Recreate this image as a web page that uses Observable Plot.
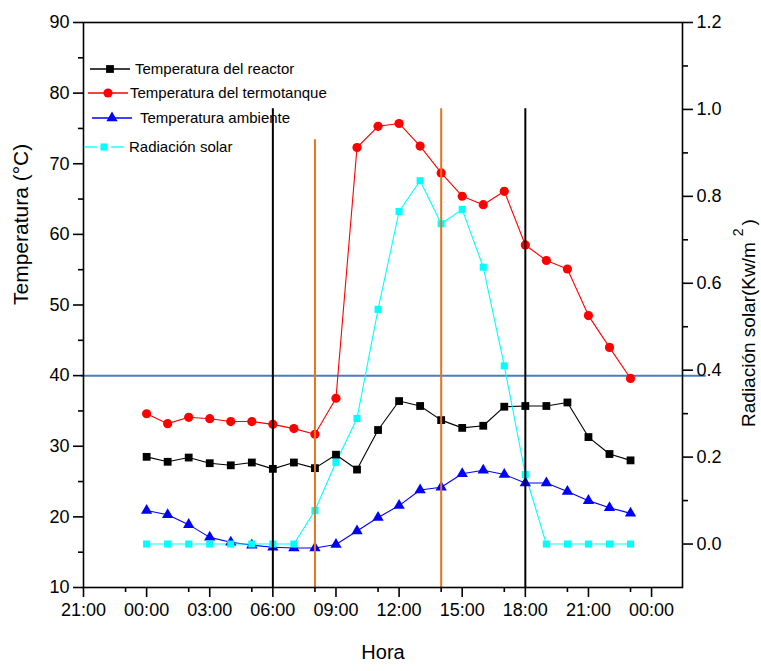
<!DOCTYPE html>
<html>
<head>
<meta charset="utf-8">
<script src="https://cdn.jsdelivr.net/npm/d3@7"></script>
<script src="https://cdn.jsdelivr.net/npm/@observablehq/plot@0.6"></script>
<style>
  html, body { margin: 0; padding: 0; background: #fff; }
  #chart svg { display: block; font-family: "Liberation Sans", Arial, sans-serif; }
</style>
</head>
<body>
<div id="chart"></div>
<script>
// Hourly readings over one day (hour of day)
const hours = [0, 1, 2, 3, 4, 5, 6, 7, 8, 9, 10, 11, 12, 13, 14, 15, 16, 17, 18, 19, 20, 21, 22, 23];

// Temperatures (°C)
const tempReactor = [28.5, 27.8, 28.4, 27.6, 27.3, 27.7, 26.8, 27.7, 26.9, 28.8, 26.7, 32.3,
                     36.4, 35.7, 33.7, 32.6, 32.9, 35.6, 35.7, 35.7, 36.2, 31.3, 28.9, 28.0];
const tempTermotanque = [34.6, 33.2, 34.1, 33.9, 33.5, 33.5, 33.1, 32.5, 31.7, 36.8, 72.3, 75.3,
                         75.7, 72.5, 68.7, 65.4, 64.2, 66.1, 58.5, 56.3, 55.1, 48.5, 44.0, 39.6];
const tempAmbiente = [20.9, 20.3, 18.9, 17.1, 16.4, 16.0, 15.7, 15.6, 15.6, 16.1, 18.0, 19.9,
                      21.6, 23.8, 24.2, 26.1, 26.6, 26.0, 24.8, 24.8, 23.6, 22.3, 21.3, 20.5];

// Solar radiation (kW/m²), right axis
const radiacion = [0, 0, 0, 0, 0, 0, 0, 0, 0.077, 0.188, 0.289, 0.540,
                   0.765, 0.836, 0.737, 0.770, 0.637, 0.410, 0.160, 0, 0, 0, 0, 0];

// Reference lines
const limitTemp = 40;                       // horizontal reference (°C)
const eventHours = [6, 8, 14, 18];          // vertical reference lines
const eventTops = [77.8, 73.4, 77.8, 77.8]; // upper end of each vertical line (°C)
const eventColors = ["#000000", "#e8731c", "#e8731c", "#000000"];

// Axis ticks
const xTicks = [-3, 0, 3, 6, 9, 12, 15, 18, 21, 24];
const xMinor = [-1, 2, 5, 8, 11, 14, 17, 20, 23];
const yTicks = [10, 20, 30, 40, 50, 60, 70, 80, 90];
const yMinor = [15, 25, 35, 45, 55, 65, 75, 85];
const rTicks = [0, 0.2, 0.4, 0.6, 0.8, 1.0, 1.2];
const rMinor = [0.1, 0.3, 0.5, 0.7, 0.9, 1.1];

// Right axis range mapped onto the temperature scale
const tDomain = [10, 90];
const rDomain = [-0.1, 1.2];
const r2t = r => tDomain[0] + (r - rDomain[0]) * (tDomain[1] - tDomain[0]) / (rDomain[1] - rDomain[0]);

const series = [
  {name: "Temperatura del reactor", values: tempReactor, color: "#000000", symbol: "square", r: 4.4},
  {name: "Temperatura del termotanque", values: tempTermotanque, color: "#ff0000", symbol: "circle", r: 4.6},
  {name: "Temperatura ambiente", values: tempAmbiente, color: "#0000ff", symbol: "triangle", r: 4.2},
  {name: "Radiación solar", values: radiacion.map(r2t), color: "#00ffff", symbol: "square", r: 4.0}
];

const rows = series.flatMap(s => hours.map((h, i) => ({serie: s.name, hora: h, valor: s.values[i]})));
const events = eventHours.map((h, i) => ({hora: h, top: eventTops[i], color: eventColors[i]}));

const hhmm = d => String(((d % 24) + 24) % 24).padStart(2, "0") + ":00";
const font = {fontFamily: "Liberation Sans, Arial, sans-serif"};

const marks = [
  // horizontal reference line, extending past the right axis
  Plot.ruleY([limitTemp], {x1: -3.1, x2: 26.6, stroke: "#4a7ebb", strokeWidth: 2, clip: false}),
  // data series
  ...series.map(s => Plot.line(rows.filter(d => d.serie === s.name),
    {x: "hora", y: "valor", stroke: s.color, strokeWidth: 1.1})),
  ...series.map(s => Plot.dot(rows.filter(d => d.serie === s.name),
    {x: "hora", y: "valor", fill: s.color, symbol: s.symbol, r: s.r, stroke: "none"})),
  // vertical event lines
  Plot.ruleX(events, {x: "hora", y1: tDomain[0], y2: "top", stroke: "color", strokeWidth: 2}),
  // frame
  Plot.frame({stroke: "#000", strokeWidth: 1.6}),
  // left axis
  Plot.axisY(yTicks, {anchor: "left", tickSize: 10, tickPadding: 4, fontSize: 18, label: null, strokeWidth: 1.6, ...font}),
  Plot.axisY(yMinor, {anchor: "left", tickSize: 5, tickFormat: () => "", label: null, strokeWidth: 1.6}),
  // right axis (radiation)
  Plot.axisY(rTicks.map(r2t), {anchor: "right", tickSize: 10, tickPadding: 4, fontSize: 18, label: null,
    tickFormat: t => ((t - tDomain[0]) * (rDomain[1] - rDomain[0]) / (tDomain[1] - tDomain[0]) + rDomain[0]).toFixed(1),
    strokeWidth: 1.6, ...font}),
  Plot.axisY(rMinor.map(r2t), {anchor: "right", tickSize: 5, tickFormat: () => "", label: null, strokeWidth: 1.6}),
  // bottom axis
  Plot.axisX(xTicks, {anchor: "bottom", tickSize: 10, tickPadding: 6, fontSize: 18, label: null,
    tickFormat: hhmm, strokeWidth: 1.6, ...font}),
  Plot.axisX(xMinor, {anchor: "bottom", tickSize: 5, tickFormat: () => "", label: null, strokeWidth: 1.6}),
  // axis titles
  Plot.text(["Temperatura (°C)"], {frameAnchor: "left", dx: -62, rotate: -90, fontSize: 21, fill: "#000", ...font}),
  Plot.text(["Hora"], {frameAnchor: "bottom", dy: 71, fontSize: 20, fill: "#000", ...font})
];

const chart = Plot.plot({
  width: 761,
  height: 671,
  marginLeft: 83,
  marginRight: 79,
  marginTop: 22,
  marginBottom: 84,
  x: {domain: [-3, 25.47], axis: null},
  y: {domain: tDomain, axis: null},
  style: {fontFamily: "Liberation Sans, Arial, sans-serif", color: "#000", background: "#fff"},
  marks
});

const svg = d3.select(chart);

// Right axis title with superscript
const rt = svg.append("text")
  .attr("transform", "translate(755,323) rotate(-90)")
  .attr("text-anchor", "middle")
  .attr("font-size", 19)
  .attr("fill", "#000");
rt.append("tspan").text("Radiación solar(Kw/m");
rt.append("tspan").attr("dx", 6).attr("dy", -12).attr("font-size", 14).text("2");
rt.append("tspan").attr("dx", 3).attr("dy", 12).text(")");

// Legend in the upper left of the plot area
const legendRows = [
  {y: 69, lx: [90, 130], mx: 110, tx: 135},
  {y: 93, lx: [88, 128], mx: 108, tx: 130},
  {y: 118, lx: [92, 132], mx: 112, tx: 140},
  {y: 147, lx: [84, 124], mx: 104, tx: 129}
];
const lg = svg.append("g")
  .attr("font-size", 15)
  .attr("text-anchor", "start")
  .attr("fill", "#000");
series.forEach((s, i) => {
  const L = legendRows[i];
  const segs = s.name === "Radiación solar"
    ? [[L.lx[0], L.mx - 7], [L.mx + 7, L.lx[1]]]
    : [[L.lx[0], L.lx[1]]];
  segs.forEach(([a, b]) => lg.append("line")
    .attr("x1", a).attr("x2", b).attr("y1", L.y).attr("y2", L.y)
    .attr("stroke", s.color).attr("stroke-width", 1.3));
  const sym = {square: d3.symbolSquare, circle: d3.symbolCircle, triangle: d3.symbolTriangle}[s.symbol];
  lg.append("path").attr("d", d3.symbol(sym, Math.PI * s.r * s.r)())
    .attr("transform", `translate(${L.mx},${L.y})`).attr("fill", s.color);
  lg.append("text").attr("x", L.tx).attr("y", L.y).attr("dy", "0.35em")
    .attr("text-anchor", "start").text(s.name);
});

document.getElementById("chart").appendChild(chart);
</script>
</body>
</html>
